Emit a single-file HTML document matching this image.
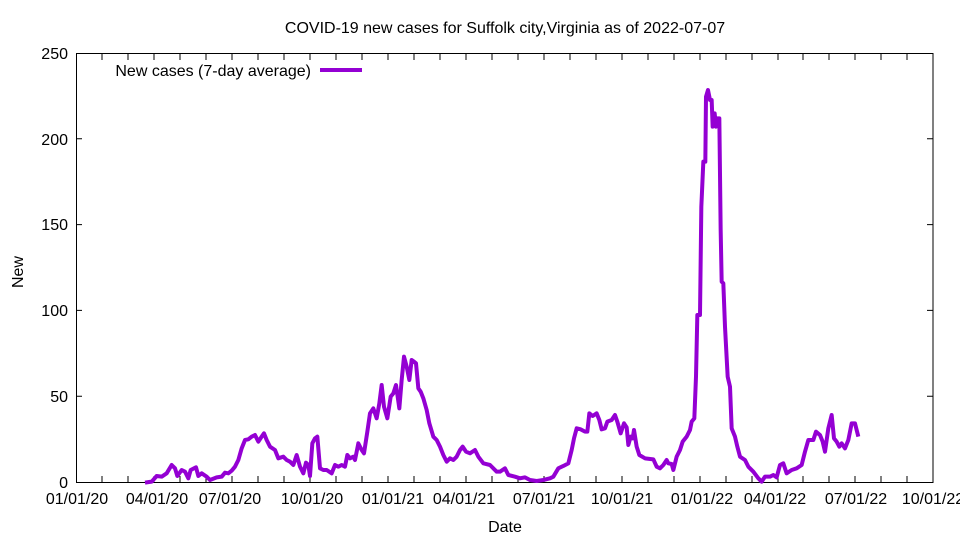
<!DOCTYPE html>
<html><head><meta charset="utf-8"><style>
html,body{margin:0;padding:0;background:#fff;width:960px;height:540px;overflow:hidden}
svg{display:block}
text{font-family:"Liberation Sans",sans-serif;font-size:16px;fill:#000}
</style></head><body>
<svg width="960" height="540" viewBox="0 0 960 540" xmlns="http://www.w3.org/2000/svg">
<text x="505" y="33" text-anchor="middle">COVID-19 new cases for Suffolk city,Virginia as of 2022-07-07</text>
<g stroke="#000" stroke-width="1" fill="none">
<rect x="76.5" y="53.5" width="856.5" height="429"/>
<path d="M76 396.2h6M933 396.2h-6M76 310.4h6M933 310.4h-6M76 224.6h6M933 224.6h-6M76 138.8h6M933 138.8h-6"/>
<path d="M102 482v-6M128 482v-6M154 482v-6M180 482v-6M206 482v-6M232 482v-6M258 482v-6M284 482v-6M310 482v-6M336 482v-6M362 482v-6M388 482v-6M414 482v-6M440 482v-6M466 482v-6M492 482v-6M518 482v-6M544 482v-6M570 482v-6M596 482v-6M622 482v-6M648 482v-6M674 482v-6M700 482v-6M726 482v-6M752 482v-6M778 482v-6M803 482v-6M829 482v-6M855 482v-6M881 482v-6M907 482v-6"/>
<path d="M102 54v6M128 54v6M154 54v6M180 54v6M206 54v6M232 54v6M258 54v6M284 54v6M310 54v6M336 54v6M362 54v6M388 54v6M414 54v6M440 54v6M466 54v6M492 54v6M518 54v6M544 54v6M570 54v6M596 54v6M622 54v6M648 54v6M674 54v6M700 54v6M726 54v6M752 54v6M778 54v6M803 54v6M829 54v6M855 54v6M881 54v6M907 54v6"/>
</g>
<g text-anchor="end">
<text x="68" y="488">0</text><text x="68" y="402">50</text><text x="68" y="316">100</text>
<text x="68" y="230">150</text><text x="68" y="145">200</text><text x="68" y="59">250</text>
</g>
<g text-anchor="middle">
<text x="77" y="504">01/01/20</text><text x="157" y="504">04/01/20</text><text x="230" y="504">07/01/20</text>
<text x="312" y="504">10/01/20</text><text x="393" y="504">01/01/21</text><text x="464" y="504">04/01/21</text>
<text x="544" y="504">07/01/21</text><text x="622" y="504">10/01/21</text><text x="702" y="504">01/01/22</text>
<text x="775" y="504">04/01/22</text><text x="856" y="504">07/01/22</text><text x="933" y="504">10/01/22</text>
<text x="505" y="532">Date</text>
</g>
<text x="23" y="272" text-anchor="middle" transform="rotate(-90 23 272)">New</text>
<text x="311" y="76" text-anchor="end">New cases (7-day average)</text>
<line x1="320" y1="70" x2="362" y2="70" stroke="#9400d3" stroke-width="4"/>
<polyline fill="none" stroke="#9400d3" stroke-width="4" stroke-linejoin="round" vector-effect="non-scaling-stroke" transform="translate(500,340) scale(0.33333)" points="-1065,428 -1045,425 -1030,408 -1015,410 -1000,400 -985,375 -975,385 -968,408 -955,390 -945,395 -935,415 -928,390 -912,382 -905,408 -895,400 -880,410 -870,420 -850,412 -835,410 -825,398 -815,400 -805,392 -795,380 -785,360 -775,325 -765,300 -755,298 -745,290 -735,285 -725,305 -715,290 -708,280 -700,300 -690,320 -675,330 -665,355 -650,350 -640,360 -630,365 -620,375 -610,345 -600,380 -590,400 -582,368 -575,375 -570,408 -563,310 -555,295 -548,290 -540,385 -530,390 -520,390 -505,400 -495,375 -485,380 -475,375 -465,380 -458,345 -450,355 -440,350 -435,360 -425,310 -415,330 -408,340 -398,275 -390,220 -380,205 -370,235 -362,190 -355,135 -348,200 -338,235 -328,170 -320,160 -312,135 -302,205 -295,120 -288,50 -280,80 -272,120 -265,60 -258,65 -252,70 -245,145 -238,155 -230,175 -220,210 -212,250 -200,290 -190,300 -180,320 -170,345 -160,365 -150,355 -140,360 -130,350 -120,330 -112,320 -102,335 -90,340 -75,330 -65,350 -50,370 -30,375 -10,395 0,395 15,385 25,405 45,410 60,415 75,412 90,420 110,423 130,420 150,415 160,410 175,385 190,378 205,370 215,330 222,295 230,265 242,268 255,275 262,275 268,220 278,228 290,220 298,240 305,268 315,265 322,245 335,240 345,225 352,245 362,280 372,250 380,262 385,315 392,290 398,295 402,270 410,320 418,345 435,355 460,358 470,380 480,385 490,375 500,360 505,370 515,372 520,390 530,350 540,330 548,305 560,290 570,270 575,245 583,235 588,110 592,-75 600,-75 604,-400 610,-535 616,-535 618,-730 624,-750 630,-720 635,-720 638,-640 644,-680 648,-640 652,-665 658,-665 662,-330 665,-175 670,-170 675,-40 683,110 690,140 695,265 705,290 712,320 720,350 735,360 745,380 760,395 775,415 785,425 795,410 810,410 820,405 830,412 840,375 850,370 860,400 875,390 890,385 905,375 915,335 925,300 940,300 948,275 960,285 968,305 975,335 985,265 995,225 1002,295 1010,305 1018,320 1025,310 1035,325 1045,300 1055,250 1065,250 1075,290"/>
</svg>
</body></html>
